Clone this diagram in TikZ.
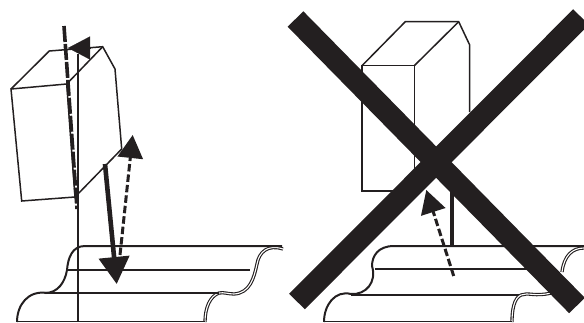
\documentclass[tikz,border=0pt]{standalone}
\usepackage{xcolor}
\definecolor{colInk}{HTML}{231F20}
\usepackage{tikz}
\usetikzlibrary{arrows.meta}
\tikzset{
	thinline/.style={draw=colInk, line width=1.5pt, line join=miter},
	filmline/.style={draw=colInk, line width=2pt},
	filmcurl/.style={draw=colInk, line width=1.1pt, double=white, double distance=1.1pt},
	beamarr/.style={draw=colInk, line width=4.6pt, -{Triangle[length=27pt, width=30pt]}},
	reflarr/.style={draw=colInk, line width=3pt, dash pattern=on 7.5pt off 3pt, -{Triangle[length=23pt, width=25pt]}},
	crossbar/.style={draw=colInk, line width=22pt},
}
\begin{document}
\begin{tikzpicture}[x=1pt, y=-1pt]
	\useasboundingbox (0,0) rectangle (584,322);
	% left: tilted head
	\coordinate (normaltop) at (78,54);
	\coordinate (normalbot) at (78,322);
	\coordinate (axistop) at (64,26);
	\coordinate (axisbot) at (77,209);
	\draw[thinline] (11,89) -- (66.7,84) -- (75,197) -- (21.7,201) -- cycle;
	\draw[thinline] (11,89) -- (49.3,51) -- (102.7,46.7) -- (115,69) -- (121.7,149) -- (75,197);
	\draw[thinline] (66.7,84) -- (102.7,46.7);
	\draw[thinline] (normaltop) -- (normalbot);
	\draw[draw=colInk, line width=3.6pt, dash pattern=on 16pt off 2pt] (axistop) -- (axisbot);
	\coordinate (tiltbase) at (90,48);
	\coordinate (tilttip) at (68,48);
	\draw[draw=colInk, line width=.1pt, -{Triangle[length=22pt, width=23pt]}] (tiltbase) -- (tilttip);
	% left: film
	\draw[filmcurl] (283,249) .. controls (268,244) and (259,252) .. (257,264) .. controls (254,278) and (250,293) .. (234,294) .. controls (228,294) and (224,292) .. (219,293) .. controls (210,296) and (205,308) .. (205,322);
	\draw[filmline] (282,246) -- (85,246) .. controls (72,246) and (68,258) .. (67,270) .. controls (65,282) and (58,293) .. (45,293);
	\draw[filmline] (67,270) -- (250,270);
	\draw[filmline] (45,293) -- (219,293);
	\draw[filmline] (47,293) .. controls (28,290) and (17,305) .. (17,322);
	\draw[thinline] (17,321.5) -- (205,321.5);
	\coordinate (beamtop) at (105,164);
	\coordinate (beamtip) at (116.7,284);
	\coordinate (refltop) at (120,255);
	\coordinate (refltip) at (132.7,135);
	\draw[reflarr] (refltop) -- (refltip);
	\draw[beamarr] (beamtop) -- (beamtip);
	% right: upright head
	\draw[thinline] (362,65.7) -- (414.3,65.7) -- (414.3,191) -- (362,191) -- cycle;
	\draw[thinline] (362,65.7) -- (405.3,21.7) -- (458.7,21.7) -- (469.7,45) -- (469.7,112);
	\draw[thinline] (414.3,65.7) -- (458.7,21.7);
	\coordinate (sourcetop) at (452,185);
	\coordinate (sourcebot) at (452,246);
	\draw[draw=colInk, line width=4.6pt] (sourcetop) -- (sourcebot);
	% right: film
	\draw[filmline] (584,246) -- (394,246) .. controls (378,246) and (372,256) .. (372,266) .. controls (377,282) and (366,295) .. (351,294) .. controls (335,290) and (324,305) .. (324,322);
	\draw[filmline] (375,269) -- (529,269);
	\draw[filmline] (351,295) -- (519,295);
	\draw[filmcurl] (584,248) .. controls (572,248) and (564,256) .. (562,272);
	\draw[filmcurl] (551,293) .. controls (535,297) and (528,292) .. (521,295) .. controls (514,298) and (512,310) .. (512,322);
	\draw[thinline] (324,321.5) -- (512,321.5);
	\coordinate (refloff) at (453.7,276);
	\coordinate (reflofftip) at (426.3,190);
	\draw[reflarr] (refloff) -- (reflofftip);
	% the cross
	\draw[crossbar] (295.5,19) -- (577,305.5);
	\draw[crossbar] (581,17) -- (297,301.5);
\end{tikzpicture}
\end{document}
